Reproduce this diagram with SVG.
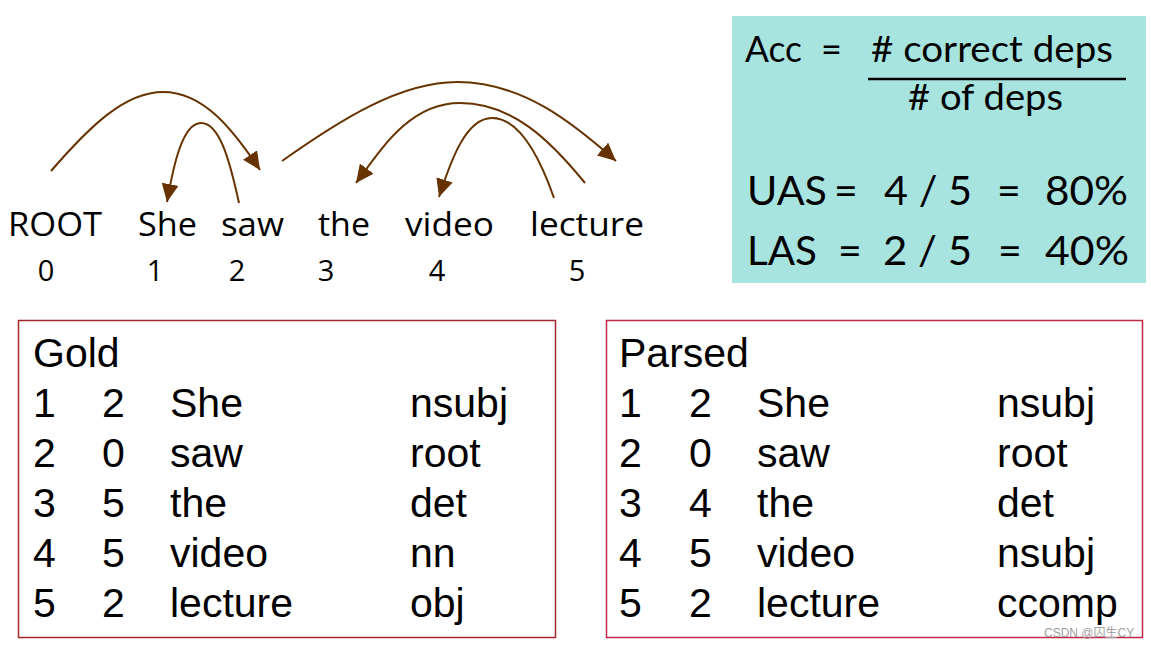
<svg xmlns="http://www.w3.org/2000/svg" width="1151" height="646" viewBox="0 0 1151 646">
<defs>
<marker id="ah" markerUnits="userSpaceOnUse" markerWidth="20" markerHeight="18" refX="18" refY="8.5" orient="auto">
<path d="M0,0 L18,8.5 L0,17 z" fill="#663300"/>
</marker>
<style>
.w{font-family:"Open Sans","DejaVu Sans",sans-serif;font-size:33px;fill:#000}
.n{font-family:"Open Sans","DejaVu Sans",sans-serif;font-size:29px;fill:#000;text-anchor:middle}
.t{font-family:"Lato","Open Sans",sans-serif;fill:#000}
.tb{font-family:"Liberation Sans",Arial,sans-serif;font-size:41px;fill:#000}
.arc{fill:none;stroke:#663300;stroke-width:2;marker-end:url(#ah)}
.wm{font-family:"Liberation Sans","Noto Sans CJK SC",sans-serif;font-size:12px;fill:#a0a0a0}
</style>
</defs>
<rect width="1151" height="646" fill="#fff"/>

<g id="sentence">
<text class="w" x="8" y="236" textLength="94" lengthAdjust="spacingAndGlyphs">ROOT</text>
<text class="w" x="138" y="236" textLength="59" lengthAdjust="spacingAndGlyphs">She</text>
<text class="w" x="221" y="236" textLength="63" lengthAdjust="spacingAndGlyphs">saw</text>
<text class="w" x="318" y="236" textLength="52" lengthAdjust="spacingAndGlyphs">the</text>
<text class="w" x="405" y="236" textLength="89" lengthAdjust="spacingAndGlyphs">video</text>
<text class="w" x="530" y="236" textLength="114" lengthAdjust="spacingAndGlyphs">lecture</text>
<text class="n" x="46" y="281">0</text>
<text class="n" x="155" y="281">1</text>
<text class="n" x="237" y="281">2</text>
<text class="n" x="326" y="281">3</text>
<text class="n" x="437" y="281">4</text>
<text class="n" x="577" y="281">5</text>
</g>

<g id="connectors">
<path class="arc" d="M51,171 C90,126 125,92 163,92 C203,92 232,128 260,170"/>
<path class="arc" d="M239,203 C230,162 220,123 201,123 C182,123 173,168 167,202"/>
<path class="arc" d="M282,161 C340,120 400,82 457,82 C522,82 572,122 616,161"/>
<path class="arc" d="M585,183 C550,140 512,103 460,103 C410,103 382,148 356,183"/>
<path class="arc" d="M554,198 C540,158 520,118 492,118 C466,118 451,160 439,197"/>
</g>

<g id="metrics">
<rect x="732" y="16" width="414" height="267" fill="#a8e4df"/>
<text class="t" x="745" y="62" font-size="36" textLength="57" lengthAdjust="spacingAndGlyphs">Acc</text>
<text class="t" x="821" y="62" font-size="36">=</text>
<text class="t" x="871" y="62" font-size="36" textLength="242" lengthAdjust="spacingAndGlyphs"># correct deps</text>
<line x1="868" y1="79" x2="1126" y2="79" stroke="#000" stroke-width="2.5"/>
<text class="t" x="908" y="110" font-size="36" textLength="155" lengthAdjust="spacingAndGlyphs"># of deps</text>
<text class="t" x="747" y="205" font-size="41" textLength="80" lengthAdjust="spacingAndGlyphs">UAS</text>
<text class="t" x="834" y="205" font-size="41">=</text>
<text class="t" x="884" y="205" font-size="41" textLength="88" lengthAdjust="spacingAndGlyphs">4 / 5</text>
<text class="t" x="997" y="205" font-size="41">=</text>
<text class="t" x="1045" y="205" font-size="41" textLength="83" lengthAdjust="spacingAndGlyphs">80%</text>
<text class="t" x="747" y="265" font-size="41" textLength="70" lengthAdjust="spacingAndGlyphs">LAS</text>
<text class="t" x="838" y="265" font-size="41">=</text>
<text class="t" x="883" y="265" font-size="41" textLength="89" lengthAdjust="spacingAndGlyphs">2 / 5</text>
<text class="t" x="998" y="265" font-size="41">=</text>
<text class="t" x="1045" y="265" font-size="41" textLength="84" lengthAdjust="spacingAndGlyphs">40%</text>
</g>

<g id="gold">
<rect x="18.5" y="320.5" width="537" height="317" fill="none" stroke="#a3282e" stroke-width="1.5"/>
<text class="tb" x="33" y="367">Gold</text>
<text class="tb" x="33" y="417">1</text><text class="tb" x="102" y="417">2</text><text class="tb" x="170" y="417">She</text><text class="tb" x="410" y="417">nsubj</text>
<text class="tb" x="33" y="467">2</text><text class="tb" x="102" y="467">0</text><text class="tb" x="170" y="467">saw</text><text class="tb" x="410" y="467">root</text>
<text class="tb" x="33" y="517">3</text><text class="tb" x="102" y="517">5</text><text class="tb" x="170" y="517">the</text><text class="tb" x="410" y="517">det</text>
<text class="tb" x="33" y="567">4</text><text class="tb" x="102" y="567">5</text><text class="tb" x="170" y="567">video</text><text class="tb" x="410" y="567">nn</text>
<text class="tb" x="33" y="617">5</text><text class="tb" x="102" y="617">2</text><text class="tb" x="170" y="617">lecture</text><text class="tb" x="410" y="617">obj</text>
</g>

<g id="parsed">
<rect x="606.5" y="320.5" width="536" height="317" fill="none" stroke="#c02846" stroke-width="1.5"/>
<text class="tb" x="619" y="367">Parsed</text>
<text class="tb" x="619" y="417">1</text><text class="tb" x="689" y="417">2</text><text class="tb" x="757" y="417">She</text><text class="tb" x="997" y="417">nsubj</text>
<text class="tb" x="619" y="467">2</text><text class="tb" x="689" y="467">0</text><text class="tb" x="757" y="467">saw</text><text class="tb" x="997" y="467">root</text>
<text class="tb" x="619" y="517">3</text><text class="tb" x="689" y="517">4</text><text class="tb" x="757" y="517">the</text><text class="tb" x="997" y="517">det</text>
<text class="tb" x="619" y="567">4</text><text class="tb" x="689" y="567">5</text><text class="tb" x="757" y="567">video</text><text class="tb" x="997" y="567">nsubj</text>
<text class="tb" x="619" y="617">5</text><text class="tb" x="689" y="617">2</text><text class="tb" x="757" y="617">lecture</text><text class="tb" x="997" y="617">ccomp</text>
</g>

<text class="wm" x="1044" y="637">CSDN @囚生CY</text>
</svg>
